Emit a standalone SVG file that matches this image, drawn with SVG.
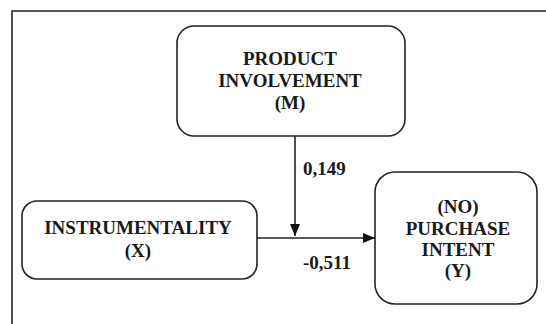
<svg xmlns="http://www.w3.org/2000/svg" width="546" height="324" viewBox="0 0 546 324">
<style>
.box{fill:#fff;stroke:#222;stroke-width:1.6}
.t{font-family:"Liberation Serif",serif;font-weight:bold;font-size:19px;fill:#1a1a1a;text-anchor:middle}
.lbl{font-family:"Liberation Serif",serif;font-weight:bold;font-size:19px;fill:#1a1a1a}
.ln{fill:none;stroke:#222;stroke-width:1.6}
</style>
<defs>
<marker id="ah" markerWidth="12" markerHeight="10" refX="12" refY="5" orient="auto" markerUnits="userSpaceOnUse">
<path d="M0,0 L12,5 L0,10 Z" fill="#111"/>
</marker>
</defs>
<rect width="546" height="324" fill="#fff"/>
<path d="M12,330 V11 H550" fill="none" stroke="#222" stroke-width="1.6"/>
<g id="connectors">
<line class="ln" x1="295" y1="136" x2="295" y2="236" marker-end="url(#ah)"/>
<line class="ln" x1="257" y1="238" x2="375" y2="238" marker-end="url(#ah)"/>
<text class="lbl" x="303" y="175">0,149</text>
<text class="lbl" x="303" y="269">-0,511</text>
</g>
<g id="node-m">
<rect class="box" x="177" y="26" width="228" height="110" rx="17"/>
<text class="t" x="290" y="65">PRODUCT</text>
<text class="t" x="290" y="87">INVOLVEMENT</text>
<text class="t" x="290" y="109">(M)</text>
</g>
<g id="node-x">
<rect class="box" x="22" y="201" width="235" height="78" rx="15"/>
<text class="t" x="138" y="234">INSTRUMENTALITY</text>
<text class="t" x="138" y="257">(X)</text>
</g>
<g id="node-y">
<rect class="box" x="375" y="172" width="162" height="132" rx="20"/>
<text class="t" x="458" y="213">(NO)</text>
<text class="t" x="458" y="235">PURCHASE</text>
<text class="t" x="458" y="256">INTENT</text>
<text class="t" x="458" y="277">(Y)</text>
</g>
</svg>
